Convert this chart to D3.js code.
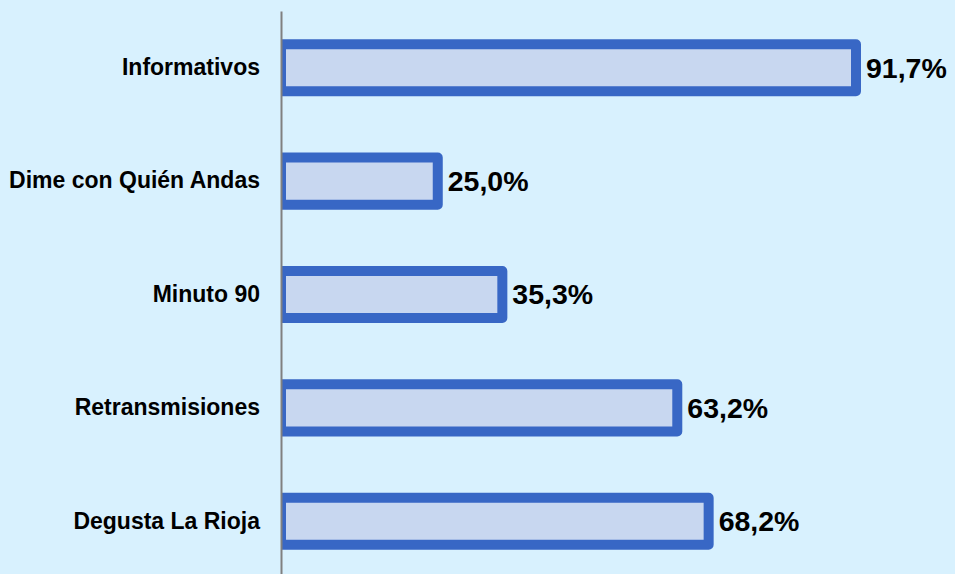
<!DOCTYPE html>
<html>
<head>
<meta charset="utf-8">
<script src="https://cdn.jsdelivr.net/npm/d3@7"></script>
<style>
  body { margin: 0; background: #d8f1fe; }
  svg { display: block; }
</style>
</head>
<body>
<div id="viz"></div>
<script>
const width = 955;
const height = 574;
const margin = {top: 11, right: 99, bottom: -4, left: 281};

const categories = ['Informativos', 'Dime con Quién Andas', 'Minuto 90', 'Retransmisiones', 'Degusta La Rioja'];
const values = [91.7, 25.0, 35.3, 63.2, 68.2];

const data = categories.map((c, i) => ({name: c, value: values[i]}));

const svg = d3.select('#viz')
    .append('svg')
        .attr('width', width)
        .attr('height', height);

svg.append('rect')
    .attr('width', width)
    .attr('height', height)
    .attr('fill', '#d8f1fe');

// x scale: 0..91.7 maps to axis .. right end of longest bar
const xScale = d3.scaleLinear()
    .domain([0, 91.7])
    .range([margin.left, 856]);

const yScale = d3.scaleBand()
    .domain(categories)
    .range([margin.top, height - margin.bottom])
    .paddingInner(0.585)
    .paddingOuter(0.2925);

// clip so the bars' left stroke stops at the axis
svg.append('clipPath')
    .attr('id', 'plot-clip')
  .append('rect')
    .attr('x', margin.left)
    .attr('y', 0)
    .attr('width', width - margin.left)
    .attr('height', height);

// bars
svg.append('g')
    .attr('class', 'bars-group')
    .attr('clip-path', 'url(#plot-clip)')
  .selectAll('rect')
  .data(data)
  .join('rect')
    .attr('x', xScale(0))
    .attr('y', d => yScale(d.name))
    .attr('width', d => xScale(d.value) - xScale(0))
    .attr('height', yScale.bandwidth())
    .attr('fill', '#c8d7f0')
    .attr('stroke', '#3867c5')
    .attr('stroke-width', 10)
    .attr('stroke-linejoin', 'round');

// axis line (no ticks)
const yAxis = d3.axisLeft(yScale).tickSize(0).tickPadding(21);
const yAxisGroup = svg.append('g')
    .attr('class', 'y-axis-group')
    .attr('transform', `translate(${margin.left},0)`)
    .call(yAxis);
yAxisGroup.select('.domain')
    .attr('stroke', '#808080')
    .attr('stroke-width', 2);
yAxisGroup.selectAll('text')
    .attr('fill', '#000')
    .style('font-family', 'Liberation Sans, Arial, sans-serif')
    .style('font-weight', 'bold')
    .style('font-size', '23px');

// value labels
svg.append('g')
    .attr('class', 'labels-group')
  .selectAll('text')
  .data(data)
  .join('text')
    .attr('x', d => xScale(d.value) + 10)
    .attr('y', d => yScale(d.name) + yScale.bandwidth() / 2)
    .attr('dy', '0.35em')
    .text(d => d.value.toFixed(1).replace('.', ',') + '%')
    .attr('fill', '#000')
    .style('font-family', 'Liberation Sans, Arial, sans-serif')
    .style('font-weight', 'bold')
    .style('font-size', '28.5px');
</script>
</body>
</html>
